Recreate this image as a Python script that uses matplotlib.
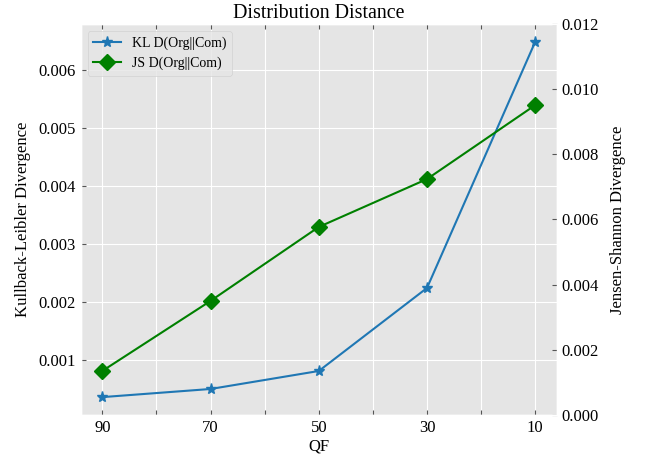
import matplotlib.pyplot as plt

plt.style.use('ggplot')
plt.rcParams['font.family'] = ['Liberation Serif', 'DejaVu Serif']
plt.rcParams['font.size'] = 10

qf = [90, 70, 50, 30, 10]
kl = [0.00036, 0.00050, 0.00081, 0.00224, 0.00648]
js = [0.00135, 0.00350, 0.00577, 0.00724, 0.00951]
qf_ticks = [90, 80, 70, 60, 50, 40, 30, 20, 10]
qf_labels = ['90', '', '70', '', '50', '', '30', '', '10']

fig, ax = plt.subplots(figsize=(6.46, 4.62), dpi=100)
fig.subplots_adjust(left=0.125, right=0.862, top=0.948, bottom=0.102)

l1, = ax.plot(qf, kl, color='#1f77b4', marker='*', markersize=8, linewidth=1.5,
              label='KL D(Org||Com)')
ax.set_xlim(94, 6)
ax.set_xticks(qf_ticks)
ax.set_xticklabels(qf_labels)
ax.set_xlabel('QF', color='black', fontsize=12, labelpad=2)
ax.set_ylabel('Kullback-Leibler Divergence', color='black', fontsize=12, labelpad=5.5)
ax.set_title('Distribution Distance', fontsize=14.4, color='black', pad=4)
ax.tick_params(axis='both', direction='in', labelcolor='black', labelsize=12)
ax.tick_params(axis='x', top=True)

ax2 = ax.twinx()
l2, = ax2.plot(qf, js, color='green', marker='D', markersize=8, linewidth=1.5,
               label='JS D(Org||Com)')
ax2.set_ylim(0, 0.012)
ax2.grid(False)
ax2.set_ylabel('Jensen-Shannon Divergence', color='black', fontsize=12, labelpad=8)
ax2.tick_params(axis='y', direction='in', labelcolor='black', labelsize=12)

ax2.legend(handles=[l1, l2], loc='upper left', fontsize=10)

fig.savefig('out.png', dpi=100)
